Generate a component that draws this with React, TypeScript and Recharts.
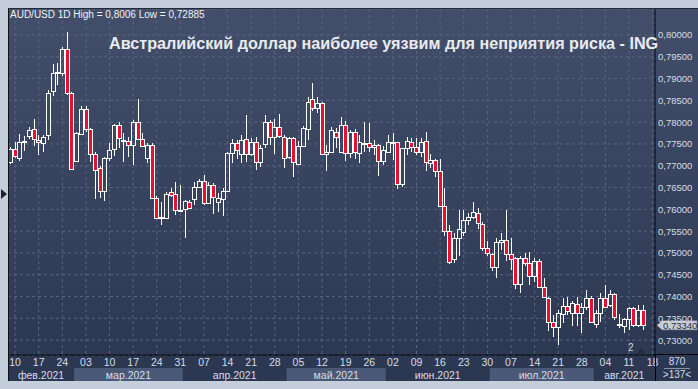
import React from 'react'
import {
  ComposedChart,
  Bar,
  XAxis,
  YAxis,
  CartesianGrid,
  ReferenceLine,
} from 'recharts'

// AUD/USD daily candles, 9 Feb - 16 Aug 2021
const openPrices = [
  0.7709, 0.7739, 0.7718, 0.7755, 0.7768, 0.7784, 0.7759, 0.7752, 0.7771, 0.7872,
  0.7912, 0.7913, 0.7968, 0.7867, 0.7711, 0.7773, 0.783, 0.7784, 0.7727, 0.7695,
  0.7642, 0.7718, 0.7739, 0.7794, 0.7756, 0.7757, 0.7748, 0.78, 0.7761, 0.7718,
  0.7748, 0.7626, 0.7581, 0.758, 0.7639, 0.7635, 0.7597, 0.76, 0.7618, 0.7623,
  0.7651, 0.7664, 0.7614, 0.7656, 0.7618, 0.7623, 0.7641, 0.7729, 0.7752, 0.7726,
  0.7761, 0.7727, 0.7754, 0.7708, 0.7749, 0.78, 0.7767, 0.779, 0.7767, 0.7721,
  0.7763, 0.7705, 0.7746, 0.7784, 0.7853, 0.7832, 0.7843, 0.7726, 0.7731, 0.7777,
  0.7731, 0.7794, 0.7729, 0.7777, 0.7729, 0.7752, 0.7752, 0.7742, 0.7748, 0.7712,
  0.7732, 0.7753, 0.7754, 0.7658, 0.774, 0.7754, 0.7742, 0.7732, 0.7757, 0.7706,
  0.7713, 0.7688, 0.7608, 0.7551, 0.7485, 0.7534, 0.7549, 0.7576, 0.7583, 0.7591,
  0.7566, 0.7511, 0.7498, 0.7468, 0.7526, 0.753, 0.7497, 0.7488, 0.7428, 0.7488,
  0.7476, 0.7446, 0.7482, 0.7423, 0.7396, 0.7342, 0.7329, 0.7359, 0.7378, 0.7362,
  0.7384, 0.7362, 0.7377, 0.7397, 0.7336, 0.7362, 0.7397, 0.738, 0.7405, 0.7334,
  0.7332, 0.7348, 0.7374, 0.7335, 0.7369,
]
const highPrices = [
  0.7743, 0.7755, 0.7773, 0.7768, 0.7789, 0.7807, 0.7771, 0.7771, 0.7874, 0.7933,
  0.7935, 0.7973, 0.8006, 0.787, 0.7777, 0.7837, 0.7837, 0.7786, 0.7732, 0.77,
  0.772, 0.7752, 0.7796, 0.78, 0.7775, 0.7766, 0.7805, 0.7853, 0.7775, 0.7752,
  0.7752, 0.763, 0.7617, 0.764, 0.765, 0.7663, 0.7656, 0.7621, 0.7621, 0.7663,
  0.7669, 0.7679, 0.7663, 0.766, 0.7637, 0.7648, 0.7732, 0.7761, 0.7759, 0.7771,
  0.7816, 0.7764, 0.7767, 0.7748, 0.7816, 0.7805, 0.7807, 0.7818, 0.7771, 0.7767,
  0.7767, 0.7757, 0.7791, 0.7858, 0.789, 0.7857, 0.7847, 0.7748, 0.779, 0.7786,
  0.7813, 0.7803, 0.7782, 0.7784, 0.7771, 0.7801, 0.7797, 0.7759, 0.775, 0.7746,
  0.7771, 0.7775, 0.7755, 0.7741, 0.7766, 0.7764, 0.7764, 0.7764, 0.7778, 0.7727,
  0.7716, 0.7716, 0.7648, 0.7563, 0.7546, 0.7599, 0.7599, 0.7592, 0.7618, 0.7603,
  0.7572, 0.7527, 0.75, 0.7534, 0.7545, 0.7599, 0.7534, 0.7491, 0.7494, 0.7499,
  0.7502, 0.7489, 0.7487, 0.7442, 0.74, 0.7358, 0.7369, 0.7397, 0.74, 0.739,
  0.74, 0.7385, 0.7415, 0.7402, 0.7369, 0.7407, 0.7426, 0.7415, 0.7407, 0.7361,
  0.735, 0.7377, 0.7377, 0.7381, 0.7381,
]
const lowPrices = [
  0.7704, 0.7718, 0.7711, 0.7735, 0.7761, 0.7745, 0.7725, 0.7732, 0.7759, 0.786,
  0.7885, 0.7905, 0.7863, 0.769, 0.7709, 0.777, 0.7777, 0.7709, 0.7624, 0.7626,
  0.7619, 0.7711, 0.7722, 0.7741, 0.7709, 0.772, 0.7702, 0.7759, 0.7743, 0.7706,
  0.7624, 0.7578, 0.7564, 0.7578, 0.7628, 0.7587, 0.7594, 0.7534, 0.76, 0.761,
  0.7649, 0.761, 0.7612, 0.7589, 0.7595, 0.7585, 0.764, 0.7706, 0.7716, 0.7706,
  0.7709, 0.7722, 0.769, 0.7698, 0.7741, 0.7748, 0.7726, 0.7763, 0.7696, 0.7716,
  0.7675, 0.7702, 0.7743, 0.7759, 0.7826, 0.782, 0.7725, 0.7688, 0.7729, 0.774,
  0.7729, 0.7711, 0.7718, 0.7716, 0.7706, 0.7732, 0.7732, 0.7725, 0.7677, 0.7702,
  0.7729, 0.7713, 0.7647, 0.7652, 0.7725, 0.7732, 0.7725, 0.772, 0.7689, 0.7695,
  0.7674, 0.7606, 0.754, 0.7475, 0.7476, 0.7494, 0.7538, 0.7564, 0.7579, 0.7555,
  0.7504, 0.7494, 0.7459, 0.7443, 0.7507, 0.7482, 0.7461, 0.7417, 0.7409, 0.747,
  0.7427, 0.7434, 0.742, 0.7398, 0.732, 0.7308, 0.7288, 0.7339, 0.7358, 0.7332,
  0.7332, 0.7316, 0.7369, 0.734, 0.7327, 0.7341, 0.7374, 0.7376, 0.7346, 0.7327,
  0.7316, 0.7323, 0.7331, 0.7331, 0.7323,
]
const closePrices = [
  0.7738, 0.7722, 0.7755, 0.7757, 0.7782, 0.7761, 0.7755, 0.7766, 0.7867, 0.7913,
  0.7914, 0.7968, 0.7867, 0.7693, 0.7775, 0.783, 0.7784, 0.7727, 0.769, 0.7642,
  0.7718, 0.7736, 0.7794, 0.7764, 0.7758, 0.7748, 0.78, 0.7761, 0.7745, 0.7748,
  0.7626, 0.758, 0.7583, 0.7635, 0.7634, 0.7598, 0.7599, 0.7619, 0.7602, 0.7651,
  0.7664, 0.7614, 0.7656, 0.7628, 0.7625, 0.7641, 0.7729, 0.7752, 0.7736, 0.7759,
  0.7727, 0.7754, 0.7708, 0.774, 0.78, 0.7765, 0.779, 0.7769, 0.7717, 0.7763,
  0.7708, 0.7746, 0.7786, 0.7847, 0.7832, 0.7843, 0.7726, 0.7732, 0.7782, 0.7765,
  0.7794, 0.7729, 0.7777, 0.7732, 0.7754, 0.7753, 0.7742, 0.7748, 0.7712, 0.7736,
  0.7754, 0.7754, 0.7658, 0.774, 0.7757, 0.7742, 0.7731, 0.7754, 0.7708, 0.7713,
  0.7688, 0.7608, 0.7551, 0.7479, 0.7534, 0.7554, 0.7576, 0.7582, 0.7593, 0.7568,
  0.7512, 0.7499, 0.7468, 0.7524, 0.753, 0.7497, 0.7485, 0.7428, 0.7488, 0.7476,
  0.7446, 0.7482, 0.7423, 0.74, 0.7342, 0.7329, 0.7362, 0.7378, 0.7367, 0.7386,
  0.7362, 0.7377, 0.7397, 0.7342, 0.7362, 0.7397, 0.7377, 0.7405, 0.7354, 0.7336,
  0.7348, 0.7374, 0.7335, 0.7369, 0.7334,
]

const priceTicks = [0.73, 0.735, 0.74, 0.745, 0.75, 0.755, 0.76, 0.765, 0.77, 0.775, 0.78, 0.785, 0.79, 0.795, 0.8]
const priceDomain = [0.72659, 0.80596]
const lastPrice = 0.7334

const monthKeys = ['2021-02', '2021-03', '2021-04', '2021-05', '2021-06', '2021-07', '2021-08']
const monthLabels = ['фев.2021', 'мар.2021', 'апр.2021', 'май.2021', 'июн.2021', 'июл.2021', 'авг.2021']
const shadedMonths = [false, true, false, true, false, true, false]

// weekdays shown on the time axis (9 Feb .. 18 Aug)
const tradingDays: string[] = []
for (let t = Date.UTC(2021, 1, 9); t <= Date.UTC(2021, 7, 18); t += 86400000) {
  const wd = new Date(t).getUTCDay()
  if (wd !== 0 && wd !== 6) tradingDays.push(new Date(t).toISOString().slice(0, 10))
}
const weekTicks = tradingDays.filter((d) => new Date(d + 'T00:00:00Z').getUTCDay() === 3)

const rows = tradingDays.map((date, i) => ({
  date,
  o: openPrices[i],
  h: highPrices[i],
  l: lowPrices[i],
  c: closePrices[i],
}))

const FONT = '"Liberation Sans", Arial, sans-serif'
const AXIS_TEXT = '#d6dce6'

function Candle(props: any) {
  const { x, y, width, height, payload } = props
  if (!payload || payload.h == null || height == null) return null
  const { o, h, l, c } = payload
  const top = Math.min(y, y + height)
  const span = Math.abs(height)
  const k = span / (h - l)
  const py = (v: number) => top + (h - v) * k
  const cx = Math.round(x + width / 2)
  const hi = Math.round(py(h))
  const lo = Math.round(py(l))
  let bTop = Math.round(py(Math.max(o, c)))
  let bBot = Math.round(py(Math.min(o, c)))
  if (bBot - bTop < 1) bBot = bTop + 1
  const up = c >= o
  return (
    <g>
      {bTop > hi && <line x1={cx + 0.5} x2={cx + 0.5} y1={hi} y2={bTop} stroke="#fff" strokeWidth={1} />}
      {lo > bBot && <line x1={cx + 0.5} x2={cx + 0.5} y1={bBot} y2={lo} stroke="#fff" strokeWidth={1} />}
      <rect
        x={cx - 1.5}
        y={bTop + 0.5}
        width={4}
        height={bBot - bTop}
        fill={up ? 'none' : '#e4122e'}
        stroke="#fff"
        strokeWidth={1}
      />
    </g>
  )
}

function DateTick(props: any) {
  const { x, y, payload } = props
  return (
    <text x={x} y={y + 11} textAnchor="middle" fontSize={10.5} fontFamily={FONT} fill={AXIS_TEXT}>
      {payload.value.slice(8, 10)}
    </text>
  )
}

function MonthTick(props: any) {
  const { x, y, payload, width } = props
  const date: string = payload.value
  const m = monthKeys.indexOf(date.slice(0, 7))
  const days = tradingDays.filter((d) => d.startsWith(monthKeys[m]))
  if (days[0] !== date) return null
  const bw = width / tradingDays.length
  const left = x - bw / 2
  return (
    <g>
      {shadedMonths[m] && <rect x={left} y={y} width={days.length * bw} height={13} fill="#4a5977" />}
      <text
        x={left + (days.length * bw) / 2}
        y={y + 11}
        textAnchor="middle"
        fontSize={10.5}
        fontFamily={FONT}
        fill={AXIS_TEXT}
      >
        {monthLabels[m]}
      </text>
    </g>
  )
}

function PriceTick(props: any) {
  const { x, y, payload } = props
  return (
    <text x={x} y={y + 3.5} textAnchor="start" fontSize={9.5} fontFamily={FONT} fill={AXIS_TEXT}>
      {payload.value.toFixed(5).replace('.', ',')}
    </text>
  )
}

function LastPriceTag(props: any) {
  const { viewBox } = props
  if (!viewBox) return null
  const x0 = viewBox.x + viewBox.width + 2
  const y0 = viewBox.y
  return (
    <g>
      <polygon
        points={`${x0},${y0} ${x0 + 5},${y0 - 4.5} ${x0 + 40},${y0 - 4.5} ${x0 + 40},${y0 + 4.5} ${x0 + 5},${y0 + 4.5}`}
        fill="#c9ced6"
        stroke="#8d96a6"
        strokeWidth={0.5}
      />
      <text x={x0 + 6} y={y0 + 3.5} fontSize={9.5} fontFamily={FONT} fill="#2a2f3a">
        {lastPrice.toFixed(5).replace('.', ',')}
      </text>
    </g>
  )
}

export default function App() {
  return (
    <div
      style={{
        position: 'absolute',
        left: 0,
        top: 0,
        width: 698,
        height: 389,
        background: '#c4cfdb',
        overflow: 'hidden',
        fontFamily: FONT,
      }}
    >
      <div
        style={{
          position: 'absolute',
          left: 8,
          top: 8,
          width: 690,
          height: 373,
          background: 'linear-gradient(#434f6a, #2b3751)',
        }}
      >
        <ComposedChart
          width={690}
          height={373}
          data={rows}
          margin={{ top: 1, right: 0, bottom: 0, left: 0 }}
        >
          <CartesianGrid
            xAxisId="d"
            stroke="#58657f"
            strokeDasharray="3 3"
          />
          <XAxis
            xAxisId="d"
            dataKey="date"
            ticks={weekTicks}
            interval={0}
            height={13}
            tickSize={0}
            tickMargin={0}
            tickLine={false}
            axisLine={{ stroke: '#000' }}
            tick={<DateTick />}
          />
          <XAxis
            xAxisId="m"
            dataKey="date"
            ticks={tradingDays}
            interval={0}
            height={13}
            tickSize={0}
            tickMargin={0}
            tickLine={false}
            axisLine={false}
            tick={<MonthTick />}
          />
          <YAxis
            orientation="right"
            type="number"
            domain={priceDomain}
            allowDataOverflow
            ticks={priceTicks}
            interval={0}
            width={43}
            tickSize={0}
            tickMargin={3}
            tickLine={false}
            axisLine={{ stroke: '#000' }}
            tick={<PriceTick />}
          />
          <Bar
            xAxisId="d"
            dataKey={(r: any) => (r.h == null ? null : [r.l, r.h])}
            barSize={4}
            shape={<Candle />}
            isAnimationActive={false}
          />
          <ReferenceLine
            xAxisId="d"
            y={lastPrice}
            stroke="none"
            label={<LastPriceTag />}
          />
        </ComposedChart>
      </div>

      {/* frame lines that run past the axes */}
      <div style={{ position: 'absolute', left: 8, top: 8, width: 1, height: 373, background: '#111' }} />
      <div style={{ position: 'absolute', left: 8, top: 8, width: 690, height: 1, background: '#222a38' }} />
      <div style={{ position: 'absolute', left: 655, top: 354, width: 43, height: 1, background: '#000' }} />
      <div style={{ position: 'absolute', left: 655, top: 355, width: 1, height: 26, background: '#000' }} />
      <div
        style={{
          position: 'absolute',
          left: 1,
          top: 189,
          width: 0,
          height: 0,
          borderTop: '5px solid transparent',
          borderBottom: '5px solid transparent',
          borderLeft: '6px solid #1b2231',
        }}
      />

      <div style={{ position: 'absolute', left: 10, top: 9, fontSize: 10, color: '#eef1f6', whiteSpace: 'nowrap' }}>
        AUD/USD 1D High = 0,8006 Low = 0,72885
      </div>
      <div
        style={{
          position: 'absolute',
          left: 109,
          top: 34,
          fontSize: 16.2,
          fontWeight: 'bold',
          color: '#e9ebef',
          whiteSpace: 'nowrap',
        }}
      >
        Австралийский доллар наиболее уязвим для неприятия риска - ING
      </div>

      <div style={{ position: 'absolute', left: 628, top: 342, fontSize: 10, color: AXIS_TEXT }}>2</div>
      <div
        style={{
          position: 'absolute',
          left: 637,
          top: 348,
          width: 0,
          height: 0,
          borderLeft: '4px solid transparent',
          borderRight: '4px solid transparent',
          borderBottom: '6px solid #242d40',
        }}
      />
      <div
        style={{
          position: 'absolute',
          left: 656,
          top: 356,
          width: 42,
          textAlign: 'center',
          fontSize: 10,
          color: AXIS_TEXT,
          lineHeight: '12px',
        }}
      >
        <div>870</div>
        <div style={{ borderTop: '1px solid #8a94a6', margin: '0 8px' }} />
        <div>&gt;137&lt;</div>
      </div>
    </div>
  )
}
